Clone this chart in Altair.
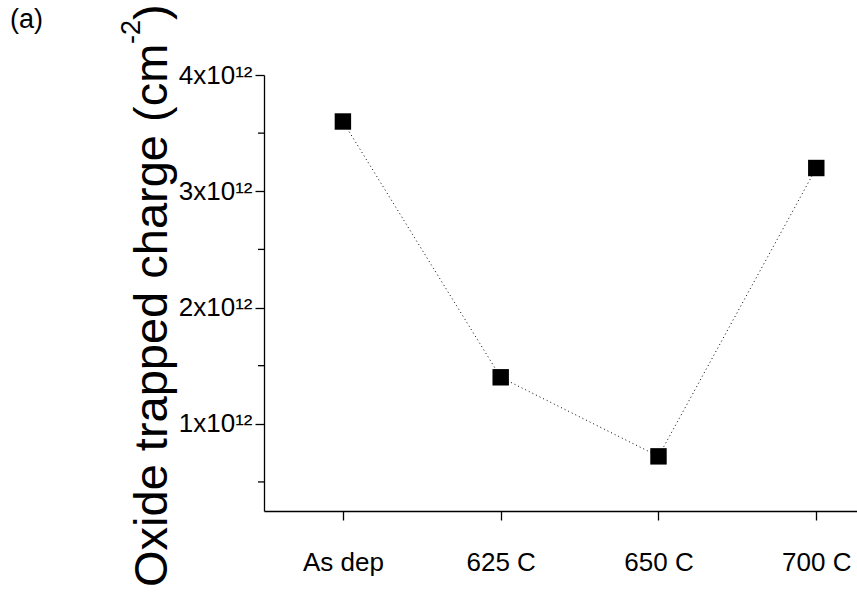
import json
import altair as alt
import pandas as pd

# ---- data ----
categories = ["As dep", "625 C", "650 C", "700 C"]
positions = [0, 1, 2, 3]
charge = [3.6e12, 1.4e12, 0.72e12, 3.2e12]
y_major = [1e12, 2e12, 3e12, 4e12]
y_minor = [0.5e12, 1.5e12, 2.5e12, 3.5e12]
panel_label = ["(a)"]
title_main = ["Oxide trapped charge (cm"]
title_sup = ["-2"]
title_end = [")"]

df = pd.DataFrame({"pos": positions, "cat": categories, "charge": charge})
minor_df = pd.DataFrame({"charge": y_minor})

FONT = "Liberation Sans"
W, H = 593, 436
PAD_L, PAD_T = 264, 75

x_scale = alt.Scale(domain=[-0.5, 3.258], nice=False, zero=False)
y_scale = alt.Scale(domain=[0.25e12, 4e12], nice=False, zero=False)

x_axis = alt.Axis(
    values=positions,
    labelExpr=json.dumps(categories) + "[datum.value]",
    title=None, grid=False, tickSize=9, tickWidth=1.3, tickColor="black",
    domainColor="black", domainWidth=1.3, labelFont=FONT, labelFontSize=26,
    labelColor="black", labelPadding=29, labelFlush=False, labelOverlap=False,
)
y_axis = alt.Axis(
    values=y_major,
    labelExpr="format(datum.value/1e12, 'd') + 'x10\u00b9\u00b2'",
    title=None,
    grid=False, tickSize=9, tickWidth=1.3, tickColor="black",
    domainColor="black", domainWidth=1.3, labelFont=FONT, labelFontSize=26,
    labelColor="black", labelPadding=3, labelFlush=False, labelOverlap=False,
)

base = alt.Chart(df)

minor = alt.Chart(minor_df).mark_rule(color="black", strokeWidth=1.3).encode(
    y=alt.Y("charge:Q", scale=y_scale, axis=y_axis),
    x=alt.value(-6), x2=alt.value(0),
)

line = base.mark_line(color="black", strokeWidth=1, strokeDash=[1, 3]).encode(
    x=alt.X("pos:Q", scale=x_scale, axis=x_axis),
    y=alt.Y("charge:Q", scale=y_scale, axis=y_axis),
)

points = base.mark_point(shape="square", filled=True, size=270, color="black", opacity=1).encode(
    x=alt.X("pos:Q", scale=x_scale, axis=x_axis),
    y=alt.Y("charge:Q", scale=y_scale, axis=y_axis),
)


def text_layer(values, size, x_abs, y_abs, angle=0):
    return alt.Chart(pd.DataFrame({"t": values})).mark_text(
        font=FONT, fontSize=size, align="left", baseline="alphabetic",
        color="black", angle=angle,
    ).encode(text="t:N", x=alt.value(x_abs - PAD_L), y=alt.value(y_abs - PAD_T))


label = text_layer(panel_label, 27, 10, 28)
t_main = text_layer(title_main, 47, 167, 587, angle=270)
t_sup = text_layer(title_sup, 27, 140, 44, angle=270)
t_end = text_layer(title_end, 47, 167, 20, angle=270)

chart = alt.layer(minor, line, points, label, t_main, t_sup, t_end).properties(
    width=W, height=H,
    autosize=alt.AutoSizeParams(type="none"),
    padding={"left": PAD_L, "top": PAD_T, "right": 0, "bottom": 596 - PAD_T - H},
    background="white",
).configure_view(stroke=None)

chart.save("out.html", embed_options={"renderer": "svg", "actions": False})
